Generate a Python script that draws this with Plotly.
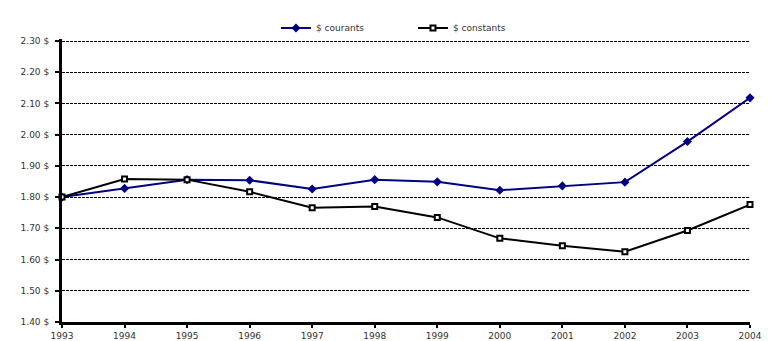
import plotly.graph_objects as go

years = [1993, 1994, 1995, 1996, 1997, 1998, 1999, 2000, 2001, 2002, 2003, 2004]
courants = [1.80, 1.828, 1.856, 1.854, 1.826, 1.856, 1.849, 1.822, 1.836, 1.848, 1.978, 2.118]
constants = [1.80, 1.858, 1.856, 1.817, 1.766, 1.770, 1.735, 1.668, 1.644, 1.625, 1.693, 1.776]
y_ticks = [1.40, 1.50, 1.60, 1.70, 1.80, 1.90, 2.00, 2.10, 2.20, 2.30]
y_ticktext = [f"{v:.2f} $" for v in y_ticks]

fig = go.Figure()
fig.add_trace(go.Scatter(
    x=years, y=courants, name="$ courants", mode="lines+markers",
    line=dict(color="#000080", width=2),
    marker=dict(symbol="diamond", size=7, color="#000080"),
    cliponaxis=False,
))
fig.add_trace(go.Scatter(
    x=years, y=constants, name="$ constants", mode="lines+markers",
    line=dict(color="black", width=2),
    marker=dict(symbol="square", size=5, color="white", line=dict(color="black", width=2)),
    cliponaxis=False,
))

fig.update_layout(
    width=763, height=333,
    margin=dict(l=54, r=21, t=31, b=19, autoexpand=False),
    paper_bgcolor="white", plot_bgcolor="white",
    font=dict(family="DejaVu Sans", size=9, color="#333333"),
    showlegend=True,
    legend=dict(orientation="h", x=0.311, xanchor="left", y=1.039, yanchor="middle",
                font=dict(size=9, color="#333333"), itemwidth=30,
                entrywidth=92, entrywidthmode="pixels",
                bgcolor="rgba(0,0,0,0)", tracegroupgap=0),
)
fig.update_xaxes(
    range=[1993, 2004], tickmode="array", tickvals=years,
    ticktext=[str(y) for y in years],
    showgrid=False, showline=True, linecolor="black", linewidth=3,
    ticks="outside", ticklen=3, tickwidth=2, tickcolor="black",
    zeroline=False, tickfont=dict(size=9, color="#333333"),
)
fig.update_yaxes(
    range=[1.40, 2.3065], tickmode="array", tickvals=y_ticks, ticktext=y_ticktext,
    showgrid=True, gridcolor="black", gridwidth=1, griddash="3px,1px",
    showline=True, linecolor="black", linewidth=3,
    ticks="outside", ticklen=4, tickwidth=2, tickcolor="black",
    ticklabelstandoff=4,
    zeroline=False, tickfont=dict(size=9, color="#333333"),
)

fig.write_html("out.html")
